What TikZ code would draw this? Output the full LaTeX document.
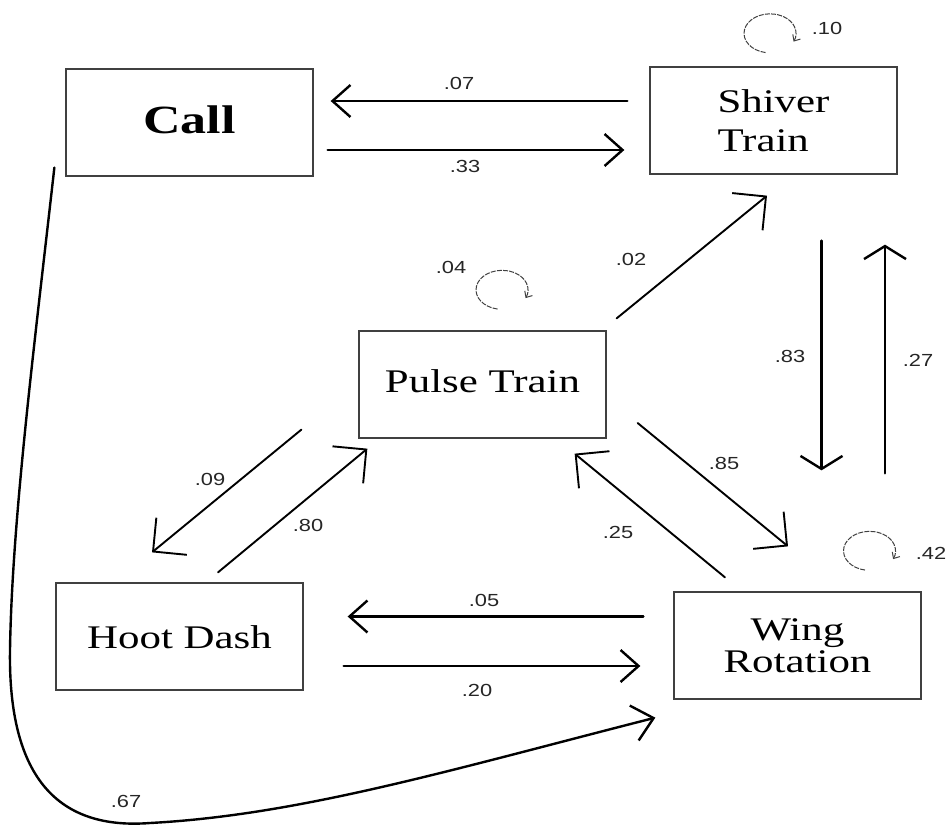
\documentclass[tikz,border=0pt]{standalone}
\usepackage{fontspec}
\usetikzlibrary{arrows.meta,calc}
\newfontfamily\boxfont[FakeStretch=1.3]{Liberation Serif}
\newfontfamily\numfont[FakeStretch=1.25]{Liberation Sans}
\begin{document}
\begin{tikzpicture}[x=1pt,y=-1pt,
  box/.style={draw=black!75, line width=1.3pt, minimum width=247pt, minimum height=107pt, inner sep=0pt, font=\boxfont\fontsize{33}{39}\selectfont},
  lab/.style={font=\numfont\fontsize{17.5}{20}\selectfont, text=black!85, inner sep=0pt},
  conn/.style={line width=2.4pt, line cap=round},
  harrow/.style={conn, -{Straight Barb[length=18pt,width=32pt]}},
  varrow/.style={conn, -{Straight Barb[length=13pt,width=42pt]}},
  darrow/.style={line width=1.9pt, line cap=round, -{Straight Barb[length=24pt,width=48pt]}},
  loopline/.style={line width=1pt, draw=black!75, dash pattern=on 5pt off 1.2pt, -{Straight Barb[length=5pt,width=9pt]}},
]
\useasboundingbox (0,0) rectangle (951,825);
\fill[white] (0,0) rectangle (951,825);

% boxes
\node[box, font=\boxfont\bfseries\fontsize{40}{48}\selectfont, text height=21pt, text depth=0pt] (call) at (189.5,122.5) {Call};
\node[box, align=left] (shiver) at (773.5,120.5) {Shiver\\Train};
\node[box, text height=15pt, text depth=0pt] (pulse) at (482.5,384.5) {Pulse Train};
\node[box, text height=23pt, text depth=0pt] (hoot) at (179.5,636.5) {Hoot Dash};
\node[box, align=center, font=\boxfont\fontsize{33}{31.6}\selectfont] (wing) at (797.5,645.5) {Wing\\Rotation};

% connectors
\draw[harrow] ([shift={(-22,-19.5)}]shiver.west) -- ([shift={(17,-21.5)}]call.east);
\draw[harrow] ([shift={(14,27.5)}]call.east) -- ([shift={(-25,29.5)}]shiver.west);
\draw[darrow] ([shift={(10,-12)}]pulse.north east) -- ([shift={(-6.5,21)}]shiver.south);
\draw[varrow] ([shift={(48,66)}]shiver.south) -- ([shift={(24,-121)}]wing.north);
\draw[varrow] ([shift={(87.5,-118)}]wing.north) -- ([shift={(111.5,70)}]shiver.south);
\draw[darrow] ([shift={(31,38.5)}]pulse.east) -- ([shift={(-9.5,-45)}]wing.north);
\draw[darrow] ([shift={(-72.5,-14)}]wing.north) -- ([shift={(-32,15)}]pulse.south east);
\draw[darrow] ([shift={(-57,-9)}]pulse.south west) -- ([shift={(-27.5,-30)}]hoot.north);
\draw[darrow] ([shift={(38.5,-10)}]hoot.north) -- ([shift={(9,10)}]pulse.south west);
\draw[harrow] ([shift={(-30,-29)}]wing.west) -- ([shift={(44,-20)}]hoot.east);
\draw[harrow] ([shift={(40,29.5)}]hoot.east) -- ([shift={(-33,20.5)}]wing.west);
\draw[conn, -{Straight Barb[length=20pt,width=36pt]}] ([shift={(-11,-9)}]call.south west)
  .. controls (35,340) and (12,520) .. (10,650)
  .. controls (8,780) and (60,830) .. (150,823)
  .. controls (300,815) and (450,770) .. ([shift={(-18,18)}]wing.south west);

% self loops
\coordinate (lshiver) at ([shift={(-3.5,-33)}]shiver.north);
\coordinate (lpulse) at ([shift={(19.5,-40.5)}]pulse.north);
\coordinate (lwing) at ([shift={(72,-40.5)}]wing.north);
\draw[loopline] ([shift={(-4.5,19.2)}]lshiver) arc[start angle=260, end angle=-25, x radius=26pt, y radius=19.5pt];
\draw[loopline] ([shift={(-4.5,19.2)}]lpulse) arc[start angle=260, end angle=-25, x radius=26pt, y radius=19.5pt];
\draw[loopline] ([shift={(-4.5,19.2)}]lwing) arc[start angle=260, end angle=-25, x radius=26pt, y radius=19.5pt];

% labels
\node[lab] (t07) at (459,83) {.07};
\node[lab] (t33) at (465,166) {.33};
\node[lab] (t10) at (827,28) {.10};
\node[lab] (t02) at (631,259) {.02};
\node[lab] (t04) at (451,267) {.04};
\node[lab] (t83) at (790,356) {.83};
\node[lab] (t27) at (918,360) {.27};
\node[lab] (t09) at (210,479) {.09};
\node[lab] (t80) at (308,525) {.80};
\node[lab] (t85) at (724,463) {.85};
\node[lab] (t25) at (618,532) {.25};
\node[lab] (t42) at (931,553) {.42};
\node[lab] (t05) at (484,600) {.05};
\node[lab] (t20) at (477,690) {.20};
\node[lab] (t67) at (126,801) {.67};
\end{tikzpicture}
\end{document}
